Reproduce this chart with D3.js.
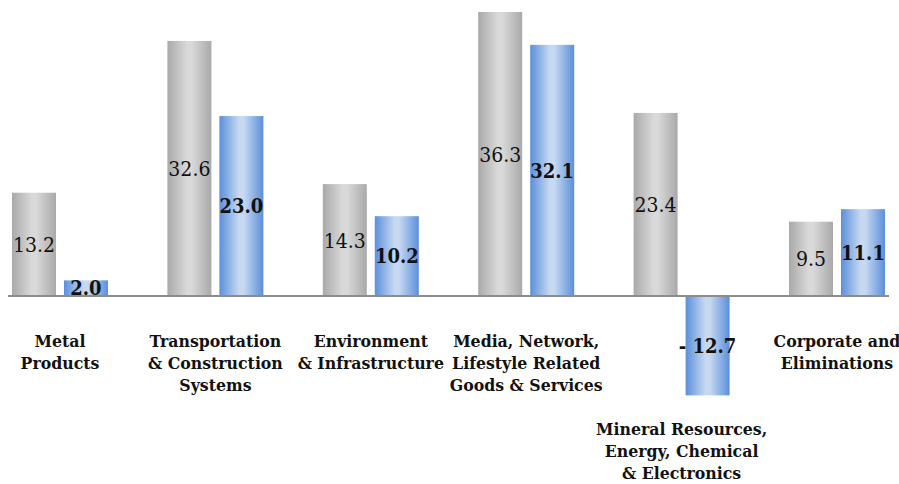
<!DOCTYPE html>
<html>
<head>
<meta charset="utf-8">
<script src="https://cdn.jsdelivr.net/npm/d3@7"></script>
<style>
  html, body { margin: 0; padding: 0; background: #ffffff; }
  svg { display: block; }
  svg text { font-family: "DejaVu Serif Condensed", "DejaVu Serif", serif; font-stretch: condensed; }
</style>
</head>
<body>
<svg id="chart" width="899" height="484"></svg>
<script>
// Segment names and the wrapped lines shown beneath each group
const categories = [
  "Metal Products",
  "Transportation & Construction Systems",
  "Environment & Infrastructure",
  "Media, Network, Lifestyle Related Goods & Services",
  "Mineral Resources, Energy, Chemical & Electronics",
  "Corporate and Eliminations"
];
const categoryLines = [
  ["Metal", "Products"],
  ["Transportation", "& Construction", "Systems"],
  ["Environment", "& Infrastructure"],
  ["Media, Network,", "Lifestyle Related", "Goods & Services"],
  ["Mineral Resources,", "Energy, Chemical", "& Electronics"],
  ["Corporate and", "Eliminations"]
];
// Previous period (grey) and current period (blue)
const previousValues = [13.2, 32.6, 14.3, 36.3, 23.4, 9.5];
const currentValues  = [2.0, 23.0, 10.2, 32.1, -12.7, 11.1];
const seriesKeys = ["previous", "current"];

const svg = d3.select("#chart");

// Scales
const y = d3.scaleLinear().domain([0, 36.3]).range([296, 12]);
const x = d3.scaleBand().domain(categories).range([-17.7, 914.7]).padding(0);
const xSub = d3.scaleBand().domain(seriesKeys)
  .range([x.bandwidth() / 2 - 48, x.bandwidth() / 2 + 48])
  .paddingInner(8 / 52).paddingOuter(0);

// Gradients across the bar width
const defs = svg.append("defs");
function hGradient(id, edge, mid) {
  const g = defs.append("linearGradient").attr("id", id)
    .attr("x1", "0%").attr("x2", "100%").attr("y1", "0%").attr("y2", "0%");
  g.append("stop").attr("offset", "0%").attr("stop-color", edge);
  g.append("stop").attr("offset", "45%").attr("stop-color", mid);
  g.append("stop").attr("offset", "55%").attr("stop-color", mid);
  g.append("stop").attr("offset", "100%").attr("stop-color", edge);
}
hGradient("gradGrey", "#a9a9a9", "#d9d9d9");
hGradient("gradBlue", "#5b8fdb", "#c6d9f1");

const rows = categories.map((c, i) => ({
  category: c,
  lines: categoryLines[i],
  previous: previousValues[i],
  current: currentValues[i]
}));

const groups = svg.append("g").selectAll("g.group")
  .data(rows).join("g")
  .attr("class", "group")
  .attr("transform", d => `translate(${x(d.category)},0)`);

const bars = groups.selectAll("g.bar")
  .data(d => seriesKeys.map(k => ({ key: k, value: d[k] })))
  .join("g").attr("class", "bar");

bars.append("rect")
  .attr("x", d => xSub(d.key))
  .attr("width", xSub.bandwidth())
  .attr("y", d => y(Math.max(0, d.value)))
  .attr("height", d => Math.abs(y(d.value) - y(0)))
  .attr("fill", d => d.key === "previous" ? "url(#gradGrey)" : "url(#gradBlue)");

// Value labels, centred inside each bar
bars.append("text")
  .attr("x", d => xSub(d.key) + xSub.bandwidth() / 2)
  .attr("y", d => (y(d.value) + y(0)) / 2)
  .attr("dy", "0.36em")
  .attr("text-anchor", "middle")
  .style("font-size", d => d.key === "previous" ? "21px" : "20px")
  .style("font-weight", d => d.key === "previous" ? "normal" : "bold")
  .attr("fill", "#111")
  .text(d => d.value < 0 ? "- " + d3.format(".1f")(-d.value) : d3.format(".1f")(d.value));

// Zero baseline
svg.append("line")
  .attr("x1", 8).attr("x2", 889)
  .attr("y1", y(0)).attr("y2", y(0))
  .attr("stroke", "#8c8c8c").attr("stroke-width", 2.2);

// Category labels beneath the baseline (or beneath a negative bar)
const minY = y(d3.min(currentValues));
groups.append("text")
  .attr("text-anchor", "middle")
  .style("font-size", "17.5px")
  .style("font-weight", "bold")
  .attr("fill", "#111")
  .each(function(d) {
    const below = d.current < 0 ? minY + 40 : y(0) + 51;
    d3.select(this).selectAll("tspan")
      .data(d.lines).join("tspan")
      .attr("x", x.bandwidth() / 2)
      .attr("y", (t, i) => below + i * 22)
      .text(t => t);
  });
</script>
</body>
</html>
